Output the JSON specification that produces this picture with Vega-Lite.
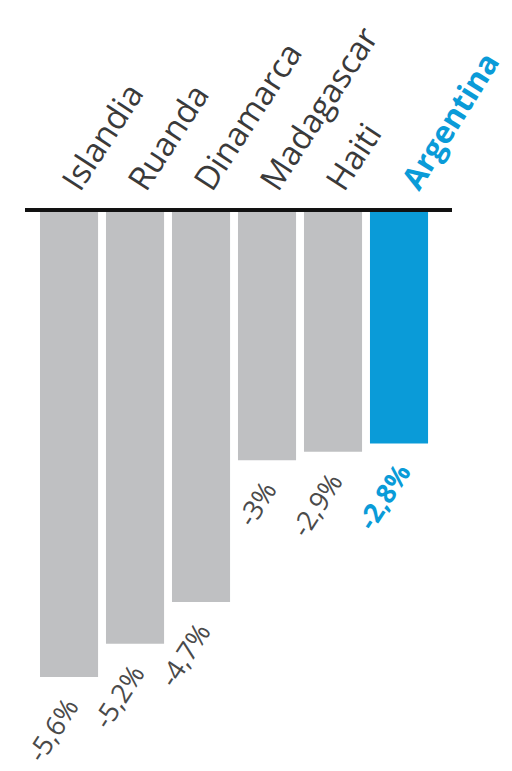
{
  "$schema": "https://vega.github.io/schema/vega-lite/v6.json",
  "autosize": "none",
  "width": 427,
  "height": 467,
  "padding": {"left": 25, "top": 210, "right": 60, "bottom": 94},
  "background": "white",
  "config": {"view": {"stroke": null}},
  "data": {
    "values": [
      {"pais": "Islandia", "valor": -5.6, "etiqueta": "-5,6%", "grupo": "otro"},
      {"pais": "Ruanda", "valor": -5.2, "etiqueta": "-5,2%", "grupo": "otro"},
      {"pais": "Dinamarca", "valor": -4.7, "etiqueta": "-4,7%", "grupo": "otro"},
      {"pais": "Madagascar", "valor": -3.0, "etiqueta": "-3%", "grupo": "otro"},
      {"pais": "Haiti", "valor": -2.9, "etiqueta": "-2,9%", "grupo": "otro"},
      {"pais": "Argentina", "valor": -2.8, "etiqueta": "-2,8%", "grupo": "destacado"}
    ]
  },
  "encoding": {
    "x": {
      "field": "pais",
      "type": "nominal",
      "sort": null,
      "scale": {"paddingInner": 0.12, "paddingOuter": 0.295, "align": 0.385},
      "axis": null
    }
  },
  "layer": [
    {
      "mark": {"type": "bar"},
      "encoding": {
        "y": {"field": "valor", "type": "quantitative", "scale": {"domain": [-5.6, 0], "nice": false}, "axis": null},
        "color": {"field": "grupo", "type": "nominal", "scale": {"domain": ["otro", "destacado"], "range": ["#bfc0c2", "#0a9bd8"]}, "legend": null}
      }
    },
    {
      "mark": {"type": "rule", "color": "#111111", "strokeWidth": 3},
      "encoding": {"y": {"datum": 0}, "x": null}
    },
    {
      "transform": [{"filter": "datum.grupo === 'otro'"}],
      "mark": {"type": "text", "angle": -57, "align": "left", "baseline": "alphabetic", "font": "Open Sans", "fontSize": 33, "color": "#3a3a3a", "xOffset": 11, "yOffset": -17},
      "encoding": {
        "y": {"datum": 0},
        "text": {"field": "pais"}
      }
    },
    {
      "transform": [{"filter": "datum.grupo === 'destacado'"}],
      "mark": {"type": "text", "angle": -58, "align": "left", "baseline": "alphabetic", "font": "Open Sans", "fontSize": 31, "fontWeight": "bold", "color": "#0a9bd8", "xOffset": 20, "yOffset": -18},
      "encoding": {
        "y": {"datum": 0},
        "text": {"field": "pais"}
      }
    },
    {
      "transform": [{"filter": "datum.grupo === 'otro'"}],
      "mark": {"type": "text", "angle": -57, "align": "right", "baseline": "middle", "font": "Open Sans", "fontSize": 27, "color": "#4a4a4a", "xOffset": 4, "yOffset": 25},
      "encoding": {
        "y": {"field": "valor", "type": "quantitative"},
        "text": {"field": "etiqueta"}
      }
    },
    {
      "transform": [{"filter": "datum.grupo === 'destacado'"}],
      "mark": {"type": "text", "angle": -57, "align": "right", "baseline": "middle", "font": "Open Sans", "fontSize": 27, "fontWeight": "bold", "color": "#0a9bd8", "xOffset": 6, "yOffset": 24},
      "encoding": {
        "y": {"field": "valor", "type": "quantitative"},
        "text": {"field": "etiqueta"}
      }
    }
  ]
}
